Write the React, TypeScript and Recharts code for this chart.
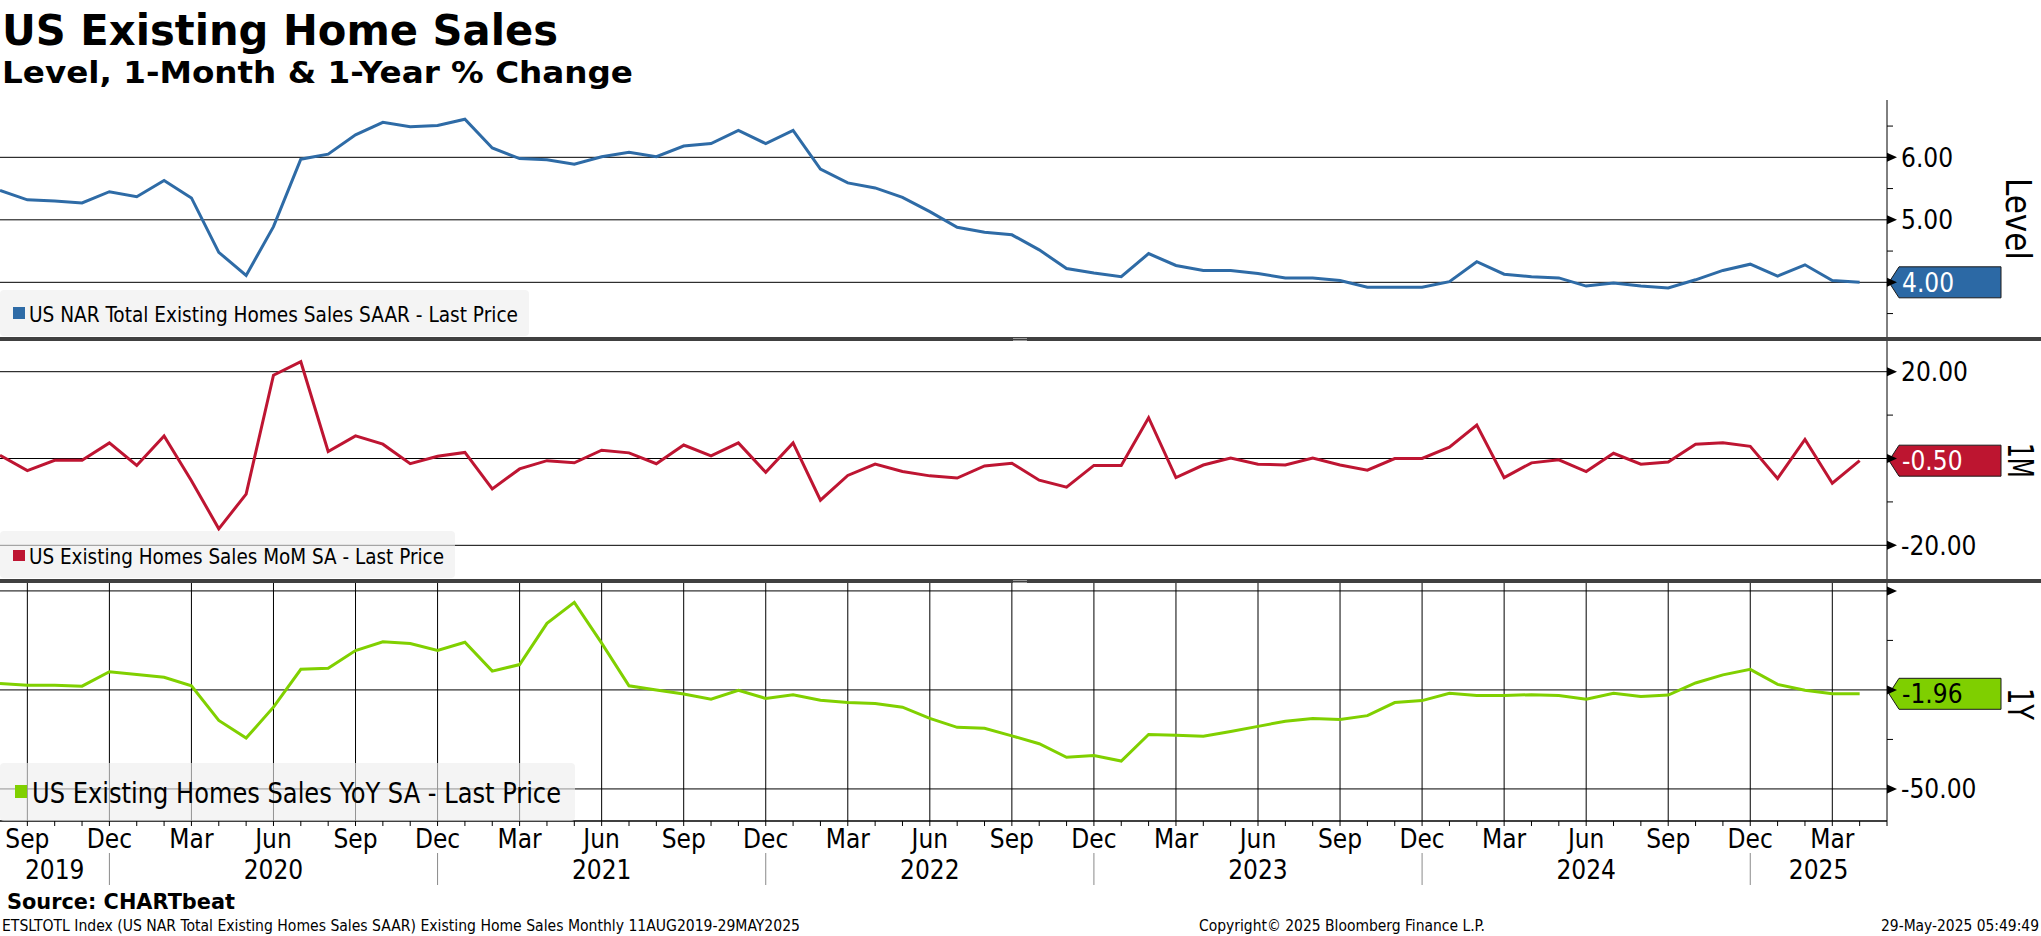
import React from 'react';
import { LineChart, Line, XAxis, YAxis, CartesianGrid, ReferenceDot, Legend } from 'recharts';

// ---------- data (monthly, Aug 2019 .. Apr 2025) ----------
const monthNames = ['Jan', 'Feb', 'Mar', 'Apr', 'May', 'Jun', 'Jul', 'Aug', 'Sep', 'Oct', 'Nov', 'Dec'];
const firstMonth = 7; // Aug
const yearLabels = ['2019', '2020', '2021', '2022', '2023', '2024', '2025'];
const quarterMonths = ['Sep', 'Dec', 'Mar', 'Jun'];

const levelValues = [
  5.47, 5.32, 5.30, 5.27, 5.45, 5.37, 5.63, 5.35, 4.48, 4.11,
  4.89, 5.97, 6.05, 6.36, 6.56, 6.49, 6.51, 6.61, 6.15, 5.98,
  5.96, 5.89, 6.01, 6.08, 6.01, 6.18, 6.22, 6.43, 6.22, 6.43,
  5.81, 5.59, 5.51, 5.36, 5.13, 4.88, 4.80, 4.76, 4.52, 4.22,
  4.15, 4.09, 4.46, 4.27, 4.19, 4.19, 4.14, 4.07, 4.07, 4.03,
  3.92, 3.92, 3.92, 4.01, 4.33, 4.13, 4.09, 4.07, 3.94, 3.99,
  3.94, 3.91, 4.04, 4.19, 4.29, 4.10, 4.28, 4.03, 4.00,
];
const momValues = [
  0.75, -2.8, -0.4, -0.4, 3.6, -1.6, 5.2, -5.1, -16.2, -8.2,
  19.2, 22.3, 1.6, 5.2, 3.3, -1.2, 0.5, 1.4, -7.0, -2.4,
  -0.5, -1.0, 1.9, 1.3, -1.2, 3.1, 0.6, 3.6, -3.2, 3.6,
  -9.6, -3.9, -1.3, -3.0, -4.0, -4.5, -1.7, -1.1, -5.0, -6.6,
  -1.6, -1.6, 9.4, -4.4, -1.5, 0.1, -1.3, -1.5, 0.1, -1.5,
  -2.7, 0.0, 0.0, 2.6, 7.7, -4.4, -1.0, -0.3, -3.0, 1.2,
  -1.3, -0.8, 3.3, 3.6, 2.8, -4.6, 4.4, -5.7, -0.5,
];
const yoyValues = [
  3.3, 2.4, 2.4, 1.9, 9.2, 7.8, 6.4, 2.1, -15.4, -24.3,
  -8.7, 10.4, 10.9, 19.9, 24.3, 23.4, 19.9, 24.1, 9.5, 12.8,
  33.6, 44.2, 23.6, 2.1, 0.0, -2.1, -4.7, -0.2, -4.3, -2.4,
  -5.2, -6.4, -6.9, -8.7, -14.4, -18.9, -19.4, -23.2, -27.2, -34.0,
  -33.1, -35.9, -22.5, -22.9, -23.4, -21.0, -18.4, -15.8, -14.4, -14.9,
  -13.0, -6.4, -5.4, -1.7, -2.8, -2.8, -2.4, -2.8, -4.7, -1.7,
  -3.3, -2.6, 3.5, 7.6, 10.4, 2.8, -0.2, -1.9, -1.96,
];

const levelTicks = [3.5, 4, 4.5, 5, 5.5, 6, 6.5];
const levelMajor = [4, 5, 6];
const momTicks = [-20, -10, 0, 10, 20];
const momMajor = [-20, 0, 20];
const yoyTicks = [-50, -25, 0, 25, 50];
const yoyMajor = [-50, 0, 50];

// ---------- layout ----------
const W = 2041;
const AXIS_W = 154;
const PLOT_R = W - AXIS_W;
const X_END = 69; // May 2025 at right axis
const FONT = "'DejaVu Sans Condensed', 'Liberation Sans Narrow', 'DejaVu Sans', sans-serif";
const P3_PLOT_H = 238;

const data = levelValues.map((v, i) => ({ i, level: v, mom: momValues[i], yoy: yoyValues[i] }));
const monthOf = (i: number) => monthNames[(firstMonth + i) % 12];
const quarterIdx = data.map((d) => d.i).filter((i) => quarterMonths.includes(monthOf(i)));
const decIdx: number[] = [];
for (let i = 0; i <= X_END; i++) if (monthOf(i) === 'Dec') decIdx.push(i);
const bounds = [0, ...decIdx, X_END];
const yearCenters = yearLabels.map((_, k) => (bounds[k] + bounds[k + 1]) / 2);
const xTicks = Array.from({ length: X_END + 1 }, (_, i) => i)
  .concat(yearCenters.filter((c) => !Number.isInteger(c)))
  .sort((a, b) => a - b);

const makeYTick = (majors: number[], skip: number[]) => (props: any) => {
  const { y, payload } = props;
  const v = payload.value;
  const isMajor = majors.includes(v);
  return (
    <g>
      {isMajor ? (
        <polygon points={`${PLOT_R},${y - 4.5} ${PLOT_R + 10},${y} ${PLOT_R},${y + 4.5}`} fill="#000" />
      ) : (
        <line x1={PLOT_R} x2={PLOT_R + 6} y1={y} y2={y} stroke="#000" strokeWidth={1} />
      )}
      {isMajor && !skip.includes(v) && (
        <text x={PLOT_R + 14} y={y + 9.5} fontSize={26} fontFamily={FONT} fill="#000">
          {v.toFixed(2)}
        </text>
      )}
    </g>
  );
};

const XTick = (props: any) => {
  const { x, payload } = props;
  const v: number = payload.value;
  const isInt = Number.isInteger(v);
  const yc = yearCenters.indexOf(v);
  const m = isInt ? monthOf(v) : '';
  return (
    <g>
      {isInt && v > 0 && <line x1={x} x2={x} y1={P3_PLOT_H} y2={P3_PLOT_H + 5} stroke="#000" strokeWidth={1} />}
      {isInt && quarterMonths.includes(m) && (
        <text x={x} y={P3_PLOT_H + 27} textAnchor="middle" fontSize={26} fontFamily={FONT} fill="#000">
          {m}
        </text>
      )}
      {isInt && m === 'Dec' && <line x1={x} x2={x} y1={P3_PLOT_H + 32} y2={P3_PLOT_H + 64} stroke="#8a8a8a" strokeWidth={1} />}
      {yc >= 0 && (
        <text x={x} y={P3_PLOT_H + 58} textAnchor="middle" fontSize={26} fontFamily={FONT} fill="#000">
          {yearLabels[yc]}
        </text>
      )}
    </g>
  );
};

const Tag = ({ cy, fill, text, textColor }: any) => (
  <g>
    <polygon
      points={`${PLOT_R + 2},${cy} ${PLOT_R + 12},${cy - 15.5} ${PLOT_R + 114},${cy - 15.5} ${PLOT_R + 114},${cy + 15.5} ${PLOT_R + 12},${cy + 15.5}`}
      fill={fill}
      stroke="#1a1a1a"
      strokeWidth={1}
    />
    <text x={PLOT_R + 15} y={cy + 9.5} fontSize={26} fontFamily={FONT} fill={textColor}>
      {text}
    </text>
  </g>
);

const LegendBox = ({ w, h, color, text, fontSize, textX, baseline, textLen, mk }: any) => (
  <div style={{ width: w, height: h, position: 'relative' }}>
    <svg width={w + 160} height={h + 10} style={{ position: 'absolute', left: 0, top: 0, overflow: 'visible' }}>
      <rect x={0} y={0} width={w} height={h} rx={4} ry={4} fill="rgba(238,238,238,0.62)" />
      <rect x={mk.x} y={mk.y} width={mk.w} height={mk.h} fill={color} />
      <text x={textX} y={baseline} fontSize={fontSize} fontFamily={FONT} fill="#000" textLength={textLen} lengthAdjust="spacingAndGlyphs">
        {text}
      </text>
    </svg>
  </div>
);

type PanelProps = {
  top: number;
  plotH: number;
  dataKey: string;
  color: string;
  domain: [number, number];
  ticks: number[];
  majors: number[];
  skip: number[];
  tagFill: string;
  tagTextColor: string;
  legend: any;
  showX?: boolean;
};

const Panel = ({ top, plotH, dataKey, color, domain, ticks, majors, skip, tagFill, tagTextColor, legend, showX }: PanelProps) => {
  const last = (data[data.length - 1] as any)[dataKey] as number;
  const xH = showX ? 70 : 0;
  return (
    <div style={{ position: 'absolute', left: 0, top }}>
      <LineChart width={W} height={plotH + xH} data={data} margin={{ top: 0, right: 0, bottom: 0, left: 0 }}>
        <CartesianGrid stroke="#000" strokeWidth={1} horizontalValues={majors} verticalValues={quarterIdx} />
        <XAxis
          dataKey="i"
          type="number"
          domain={[0, X_END]}
          allowDataOverflow
          ticks={showX ? xTicks : quarterIdx}
          interval={0}
          hide={!showX}
          height={xH}
          tickLine={false}
          axisLine={{ stroke: '#000', strokeWidth: 1.5 }}
          tick={showX ? XTick : false}
        />
        <YAxis
          orientation="right"
          type="number"
          domain={domain}
          allowDataOverflow
          ticks={ticks}
          interval={0}
          width={AXIS_W}
          tickLine={false}
          axisLine={{ stroke: '#000', strokeWidth: 1 }}
          tick={makeYTick(majors, skip)}
        />
        <Line type="linear" dataKey={dataKey} stroke={color} strokeWidth={3} dot={false} activeDot={false} isAnimationActive={false} />
        <ReferenceDot
          x={data.length - 1}
          y={last}
          r={0}
          ifOverflow="visible"
          shape={(p: any) => <Tag cy={p.cy} fill={tagFill} text={last.toFixed(2)} textColor={tagTextColor} />}
        />
        <Legend
          verticalAlign="middle"
          align="center"
          layout="horizontal"
          wrapperStyle={{ left: 0, top: legend.top, width: legend.w, height: legend.h }}
          content={() => <LegendBox {...legend} color={color} />}
        />
      </LineChart>
    </div>
  );
};

const Separator = ({ top }: { top: number }) => (
  <div style={{ position: 'absolute', left: 0, top, width: W, height: 4, background: '#404040', zIndex: 5 }}>
    <div style={{ position: 'absolute', left: 1013, top: 1, width: 14, height: 1, background: '#9a9a9a' }} />
    <div style={{ position: 'absolute', left: 1013, top: 3, width: 14, height: 1, background: '#9a9a9a' }} />
  </div>
);

export default function App() {
  return (
    <div style={{ position: 'absolute', left: 0, top: 0, width: W, height: 936, background: '#fff', overflow: 'hidden' }}>
      <Panel
        top={100}
        plotH={237}
        dataKey="level"
        color="#2e6ba6"
        domain={[3.125, 6.917]}
        ticks={levelTicks}
        majors={levelMajor}
        skip={[4]}
        tagFill="#2c69a5"
        tagTextColor="#fff"
        legend={{ top: 190, w: 529, h: 46, text: 'US NAR Total Existing Homes Sales SAAR - Last Price', fontSize: 20.5, textX: 29, baseline: 32, textLen: 489, mk: { x: 13, y: 17, w: 12, h: 12 } }}
      />
      <Panel
        top={341}
        plotH={238}
        dataKey="mom"
        color="#be1532"
        domain={[-27.76, 27.07]}
        ticks={momTicks}
        majors={momMajor}
        skip={[0]}
        tagFill="#bd1530"
        tagTextColor="#fff"
        legend={{ top: 190, w: 455, h: 47, text: 'US Existing Homes Sales MoM SA - Last Price', fontSize: 20.5, textX: 29, baseline: 33, textLen: 415, mk: { x: 13, y: 19, w: 12, h: 11 } }}
      />
      <Panel
        top={583}
        plotH={P3_PLOT_H}
        dataKey="yoy"
        color="#80d000"
        domain={[-66.2, 54.0]}
        ticks={yoyTicks}
        majors={yoyMajor}
        skip={[0, 50]}
        tagFill="#7fcf00"
        tagTextColor="#000"
        showX
        legend={{ top: 180, w: 575, h: 58, text: 'US Existing Homes Sales YoY SA - Last Price', fontSize: 28, textX: 32, baseline: 40, textLen: 529, mk: { x: 15, y: 22, w: 12, h: 13 } }}
      />
      <Separator top={337} />
      <Separator top={579} />
      <svg width={W} height={936} style={{ position: 'absolute', left: 0, top: 0, zIndex: 6, pointerEvents: 'none' }}>
        <text x={2} y={45} fontSize={43} fontWeight="bold" fontFamily="'DejaVu Sans', sans-serif" textLength={556} lengthAdjust="spacingAndGlyphs">
          US Existing Home Sales
        </text>
        <text x={2} y={83} fontSize={30} fontWeight="bold" fontFamily="'DejaVu Sans', sans-serif" textLength={631} lengthAdjust="spacingAndGlyphs">
          Level, 1-Month &amp; 1-Year % Change
        </text>
        <text transform="translate(2006,219) rotate(90)" textAnchor="middle" fontSize={36} fontFamily={FONT} textLength={82} lengthAdjust="spacingAndGlyphs">
          Level
        </text>
        <text transform="translate(2008,460.5) rotate(90)" textAnchor="middle" fontSize={36} fontFamily={FONT} textLength={35} lengthAdjust="spacingAndGlyphs">
          1M
        </text>
        <text transform="translate(2008,704) rotate(90)" textAnchor="middle" fontSize={36} fontFamily={FONT} textLength={32} lengthAdjust="spacingAndGlyphs">
          1Y
        </text>
        <text x={7} y={909} fontSize={21} fontWeight="bold" fontFamily="'DejaVu Sans', sans-serif" textLength={228} lengthAdjust="spacingAndGlyphs">
          Source: CHARTbeat
        </text>
        <text x={2} y={931} fontSize={16} fontFamily={FONT} textLength={798} lengthAdjust="spacingAndGlyphs">
          ETSLTOTL Index (US NAR Total Existing Homes Sales SAAR) Existing Home Sales  Monthly 11AUG2019-29MAY2025
        </text>
        <text x={1199} y={931} fontSize={16} fontFamily={FONT} textLength={286} lengthAdjust="spacingAndGlyphs">
          Copyright© 2025 Bloomberg Finance L.P.
        </text>
        <text x={2039} y={931} textAnchor="end" fontSize={15} fontFamily={FONT} textLength={158} lengthAdjust="spacingAndGlyphs">
          29-May-2025 05:49:49
        </text>
      </svg>
    </div>
  );
}
